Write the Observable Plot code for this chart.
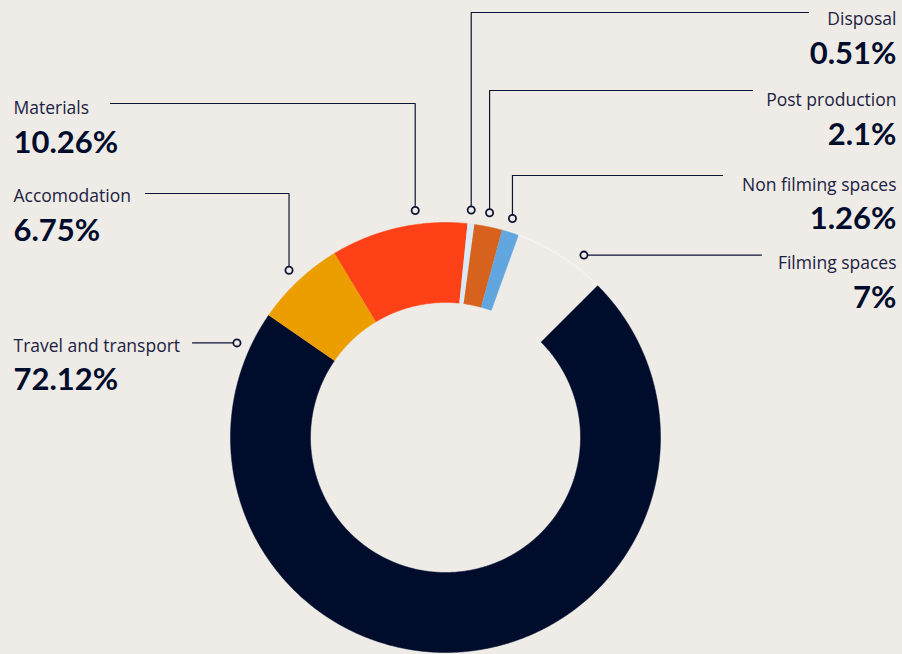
<!DOCTYPE html>
<html>
<head>
<meta charset="utf-8">
<script src="https://cdn.jsdelivr.net/npm/d3@7"></script>
<script src="https://cdn.jsdelivr.net/npm/@observablehq/plot@0.6"></script>
<style>
  html, body { margin: 0; padding: 0; background: #efece8; }
  #chart { width: 902px; height: 654px; }
  svg { display: block; }
</style>
</head>
<body>
<div id="chart"></div>
<script>
// ---- data ----
const categories = ["Travel and transport", "Accomodation", "Materials", "Disposal", "Post production", "Non filming spaces", "Filming spaces"];
const shares = [72.12, 6.75, 10.26, 0.51, 2.1, 1.26, 7];
const valueLabels = ["72.12%", "6.75%", "10.26%", "0.51%", "2.1%", "1.26%", "7%"];
const sliceColors = ["#000c2b", "#ec9e00", "#ff4117", "#dbe9f6", "#d7621e", "#62a6e0", "none"];

// ---- layout (screen pixels) ----
const W = 902, H = 654;
const CX = 445, CY = 437;        // donut centre
const R_OUT = 215, R_IN = 135, R_ANCHOR = 229;
const START_DEG = 45;
// label layout per category: side, label baseline, value baseline, leader y (null = horizontal to anchor), leader end x, anchor angle (deg clockwise from top)
const labelLayout = [
  {side: "left",  labelY: 351, valueY: 389, lineY: null, lineX: 192, angle: -65.6},
  {side: "left",  labelY: 201, valueY: 240, lineY: 193,  lineX: 145, angle: -43.1},
  {side: "left",  labelY: 113, valueY: 152, lineY: 103,  lineX: 110, angle: -7.6},
  {side: "right", labelY: 24,  valueY: 63,  lineY: 12,   lineX: 808, angle: 6.45},
  {side: "right", labelY: 105, valueY: 144, lineY: 90,   lineX: 752, angle: 11.1},
  {side: "right", labelY: 190, valueY: 228, lineY: 175,  lineX: 722, angle: 17.0},
  {side: "right", labelY: 268, valueY: 307, lineY: null, lineX: 761, angle: 37.2}
];

// convert screen coords to chart coords (centre = 0,0, y up)
const sx = x => x - CX;
const sy = y => CY - y;
const polar = (r, a) => [r * Math.sin(a), r * Math.cos(a)];

const pie = d3.pie().sort(null).value(d => d)
  .startAngle(START_DEG * Math.PI / 180)
  .endAngle(START_DEG * Math.PI / 180 + 2 * Math.PI)(shares);

// slice polygons
const slicePts = [];
const filmingOutline = [];
pie.forEach((p, i) => {
  const n = Math.max(2, Math.ceil((p.endAngle - p.startAngle) * 180 / Math.PI * 2));
  const pts = [];
  for (let k = 0; k <= n; k++) {
    const a = p.startAngle + (p.endAngle - p.startAngle) * k / n;
    pts.push(polar(R_OUT, a));
  }
  for (let k = n; k >= 0; k--) {
    const a = p.startAngle + (p.endAngle - p.startAngle) * k / n;
    pts.push(polar(R_IN, a));
  }
  if (sliceColors[i] === "none") {
    for (let k = 0; k <= n; k++) {
      const a = p.startAngle + (p.endAngle - p.startAngle) * k / n;
      const [x, y] = polar(R_OUT, a);
      filmingOutline.push({x, y});
    }
    return;
  }
  pts.forEach(([x, y]) => slicePts.push({x, y, name: categories[i], color: sliceColors[i]}));
});

// leaders
const leaderPts = [];
const anchors = [];
const labels = [];
categories.forEach((c, i) => {
  const L = labelLayout[i];
  const [ax, ay] = polar(R_ANCHOR, L.angle * Math.PI / 180);
  anchors.push({x: ax, y: ay});
  const ly = L.lineY === null ? ay : sy(L.lineY);
  leaderPts.push({x: sx(L.lineX), y: ly, name: c});
  leaderPts.push({x: ax, y: ly, name: c});
  leaderPts.push({x: ax, y: ay, name: c});
  const tx = L.side === "left" ? sx(13) : sx(896);
  labels.push({x: tx, y: sy(L.labelY), text: c, side: L.side, value: false});
  labels.push({x: tx, y: sy(L.valueY), text: valueLabels[i], side: L.side, value: true});
});

const navy = "#0d1534";
const textMark = (side, isValue) => Plot.text(
  labels.filter(d => d.side === side && d.value === isValue),
  {
    x: "x", y: "y", text: "text",
    textAnchor: side === "left" ? "start" : "end",
    lineAnchor: "bottom",
    fontSize: isValue ? 31 : 17.5,
    fontWeight: isValue ? "bold" : "normal",
    fontFamily: isValue ? "Lato, 'Noto Sans', sans-serif" : "'Open Sans', 'Noto Sans', sans-serif",
    fill: isValue ? "#000c2b" : "#1b2140"
  }
);

const chart = Plot.plot({
  width: W,
  height: H,
  margin: 0,
  x: {domain: [sx(0), sx(W)], range: [0, W], axis: null},
  y: {domain: [sy(H), sy(0)], range: [H, 0], axis: null},
  style: {background: "transparent", overflow: "visible"},
  marks: [
    Plot.line(slicePts, {x: "x", y: "y", z: "name", fill: d => d.color, stroke: d => d.color, strokeWidth: 0.5, curve: "linear"}),
    Plot.line(filmingOutline, {x: "x", y: "y", stroke: "#ffffff", strokeOpacity: 0.55, strokeWidth: 1}),
    Plot.line(leaderPts, {x: "x", y: "y", z: "name", stroke: navy, strokeWidth: 1.2}),
    Plot.dot(anchors, {x: "x", y: "y", r: 3.6, stroke: navy, strokeWidth: 1.8, fill: "#efece8"}),
    textMark("left", false), textMark("left", true),
    textMark("right", false), textMark("right", true)
  ]
});
document.getElementById("chart").append(chart);
</script>
</body>
</html>
